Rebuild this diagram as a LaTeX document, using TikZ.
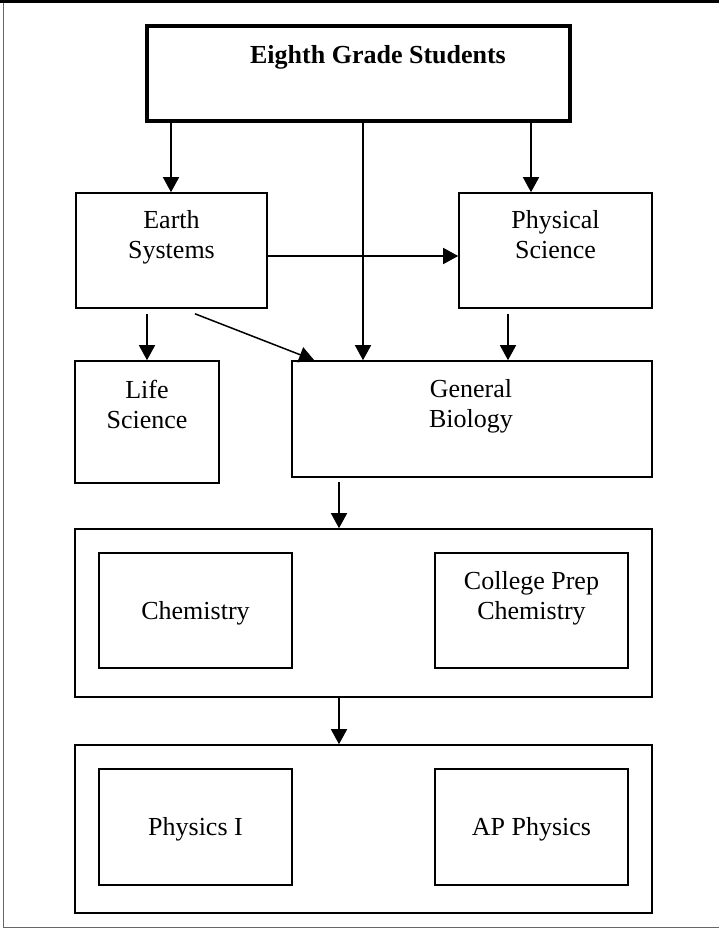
\documentclass[tikz,border=0pt]{standalone}
\usepackage{fontspec}
\setmainfont{Liberation Serif}
\usetikzlibrary{arrows.meta}
\tikzset{
  box/.style={draw, line width=0.8pt, inner sep=0pt},
  arr/.style={line width=0.75pt, -{Triangle[length=7.5pt,width=8pt]}},
  lbl/.style={font=\fontsize{13}{15}\selectfont, align=center, anchor=base, inner sep=0pt},
}

\begin{document}
\begin{tikzpicture}[x=0.5pt,y=-0.5pt]
			%%%%% START %%%%%
			\useasboundingbox (0,0) rectangle (719,937);
			
			\draw[line width=0.5pt, color=black!60] (3,0) -- (3,927) -- (719,927);
			\draw[line width=1.6pt] (0,1.6) -- (719,1.6);
			
			\node[box, line width=2pt, minimum width=211.5pt, minimum height=47.5pt] (top) at (358.5,73.5) {};
			\node[lbl, font=\fontsize{13}{15}\selectfont\bfseries] (toplbl) at (378,63) {Eighth Grade Students};
			
			\node[box, minimum width=95.5pt, minimum height=57.5pt] (earth) at (171.5,250.5) {};
			\node[lbl] (earthlbl) at (171.5,258) {Earth\\Systems};
			\node[box, minimum width=96.5pt, minimum height=57.5pt] (physsci) at (555.5,250.5) {};
			\node[lbl] (physscilbl) at (555.5,258) {Physical\\Science};
			
			\node[box, minimum width=72pt, minimum height=61pt] (life) at (147,422) {};
			\node[lbl] (lifelbl) at (147,428) {Life\\Science};
			\node[box, minimum width=180pt, minimum height=58pt] (bio) at (472,419) {};
			\node[lbl] (biolbl) at (471,427) {General\\Biology};
			
			\node[box, minimum width=288.5pt, minimum height=84pt] (chemgrp) at (363.5,613) {};
			\node[box, minimum width=96.5pt, minimum height=57.5pt] (chem) at (195.5,610.5) {};
			\node[lbl] (chemlbl) at (195.5,619) {Chemistry};
			\node[box, minimum width=96.5pt, minimum height=57.5pt] (cpchem) at (531.5,610.5) {};
			\node[lbl] (cpchemlbl) at (531.5,619) {College Prep\\Chemistry};
			
			\node[box, minimum width=288.5pt, minimum height=84pt] (physgrp) at (363.5,829) {};
			\node[box, minimum width=96.5pt, minimum height=58pt] (phys1) at (195.5,827) {};
			\node[lbl] (phys1lbl) at (195.5,835) {Physics I};
			\node[box, minimum width=96.5pt, minimum height=58pt] (apphys) at (531.5,827) {};
			\node[lbl] (apphyslbl) at (531.5,835) {AP Physics};
			
			\coordinate (esx) at (171,0);
			\coordinate (psx) at (531,0);
			\coordinate (midx) at (363,0);
			\coordinate (pbx) at (508,0);
			\coordinate (lowx) at (339,0);
			
			\draw[arr] (top.south -| esx) -- (earth.north -| esx);
			\draw[arr] (top.south -| psx) -- (physsci.north -| psx);
			\draw[arr] (top.south -| midx) -- (bio.north -| midx);
			\draw[arr] ([yshift=-2.75pt]earth.east) -- ([yshift=-2.75pt]earth.east -| physsci.west);
			
			\draw[arr] ([yshift=-2.5pt]earth.south -| life.north) -- (life.north);
			\draw[arr] ([xshift=11.75pt,yshift=-2.5pt]earth.south) -- ([xshift=11.5pt]bio.north west);
			\draw[arr] ([yshift=-2.5pt]physsci.south -| pbx) -- (bio.north -| pbx);
			
			\draw[arr] ([yshift=-2pt]bio.south -| lowx) -- (chemgrp.north -| lowx);
			\draw[arr] (chemgrp.south -| lowx) -- (physgrp.north -| lowx);
			
			%%%%% END %%%%%
\end{tikzpicture}
\end{document}
